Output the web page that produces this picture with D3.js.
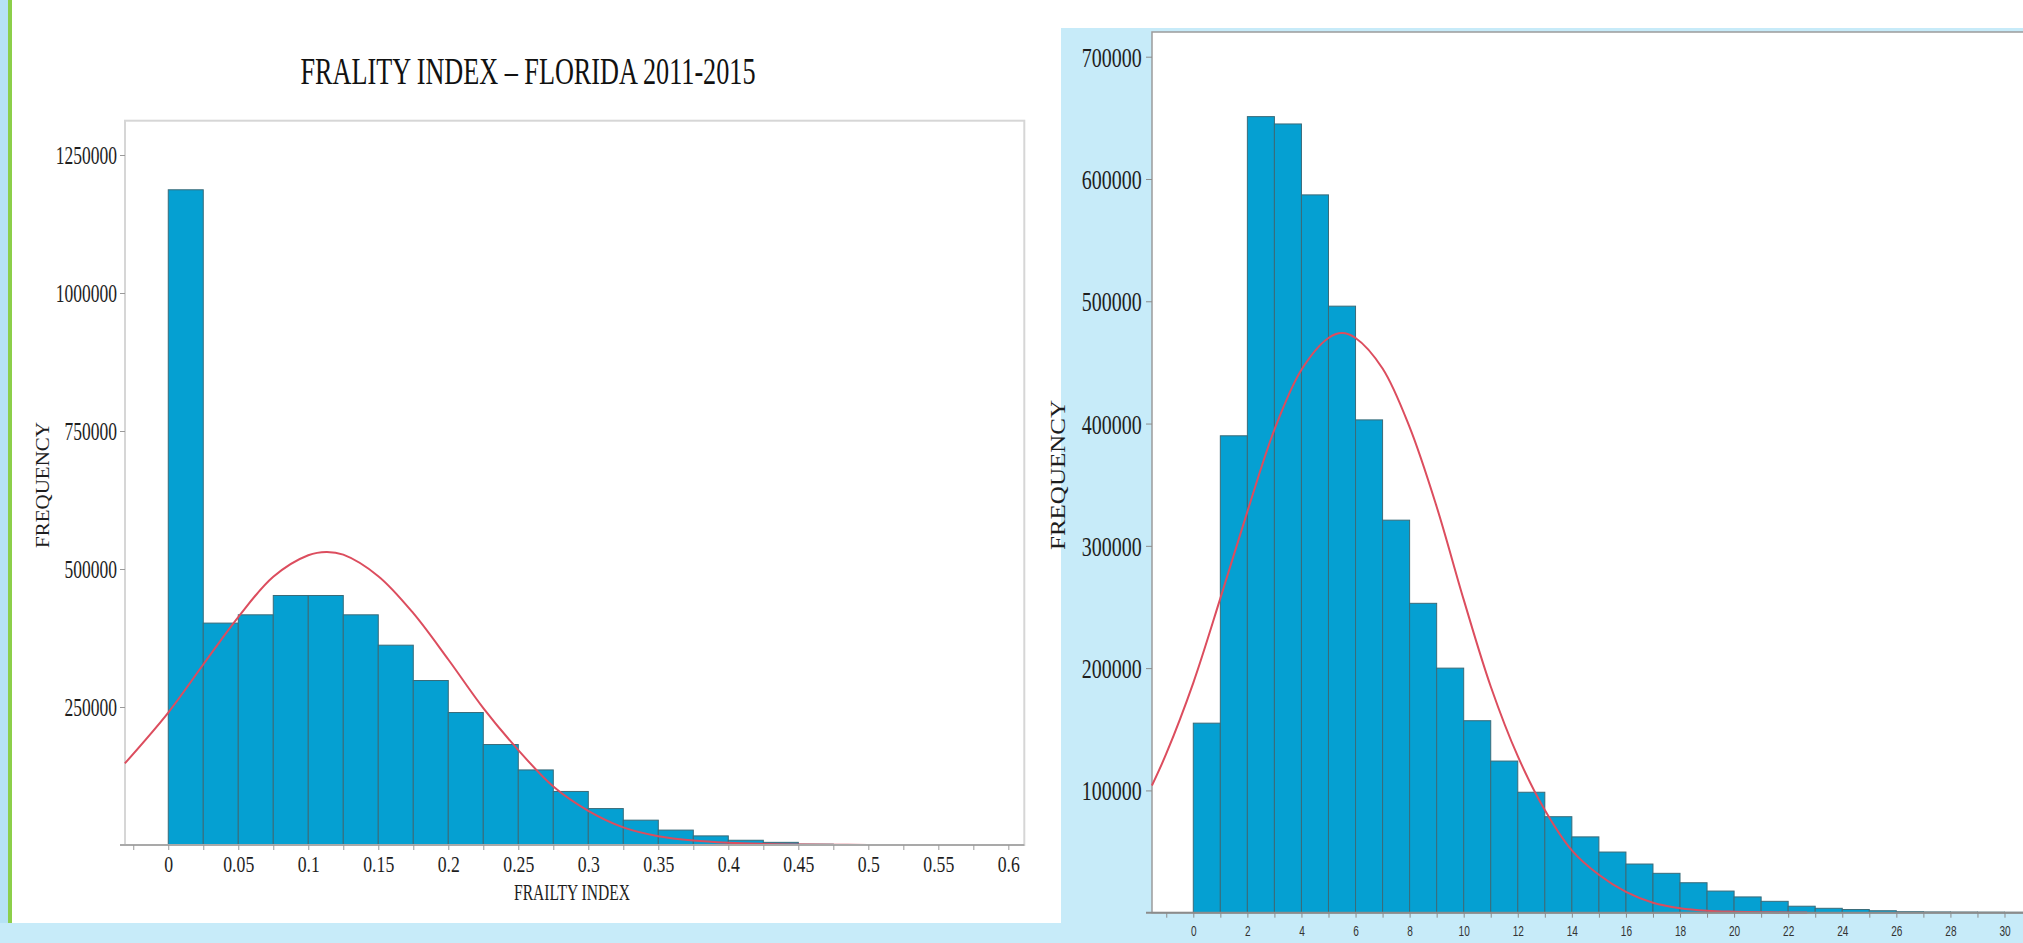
<!DOCTYPE html>
<html>
<head>
<meta charset="utf-8">
<script src="https://cdn.jsdelivr.net/npm/d3@7"></script>
<style>
  body { margin: 0; background: #c7ebf9; }
  svg { display: block; }
</style>
</head>
<body>
<svg id="chart" width="2023" height="943"></svg>
<script>
// ---------------- DATA ----------------
// Left panel: Frailty index histogram (bins of width 0.025 starting at 0)
const leftBinStart = 0;
const leftBinWidth = 0.025;
const leftCounts = [1187000, 402000, 417000, 452000, 452000, 417000, 362000, 298000,
  240000, 182000, 136000, 97000, 66000, 45000, 27000, 16500, 8600, 4800, 1500, 700,
  300, 300, 300, 300];
// Left fitted curve (x, frequency)
const leftCurveX = [-0.031, 0, 0.025, 0.05, 0.075, 0.1, 0.113, 0.125, 0.15, 0.175, 0.2,
  0.225, 0.25, 0.275, 0.3, 0.325, 0.35, 0.375, 0.4, 0.425, 0.45, 0.475, 0.5];
const leftCurveY = [148000, 240000, 327000, 413000, 486000, 525000, 531000, 526000, 487000,
  420000, 336000, 248000, 172000, 106000, 62000, 32000, 16000, 8000, 4000, 2000, 900, 400, 150];
const leftXTicks = [0, 0.05, 0.1, 0.15, 0.2, 0.25, 0.3, 0.35, 0.4, 0.45, 0.5, 0.55, 0.6];
const leftXTickLabels = ["0", "0.05", "0.1", "0.15", "0.2", "0.25", "0.3", "0.35", "0.4", "0.45", "0.5", "0.55", "0.6"];
const leftYTicks = [250000, 500000, 750000, 1000000, 1250000];

// Right panel: count histogram (bins of width 1 starting at 0)
const rightBinStart = 0;
const rightBinWidth = 1;
const rightCounts = [155000, 390000, 651000, 645000, 587000, 496000, 403000, 321000, 253000,
  200000, 157000, 124000, 98500, 78500, 62000, 49600, 39800, 32200, 24500, 17700, 12900,
  9300, 5300, 3600, 2600, 1600, 800, 600, 500, 400, 300];
const rightCurveX = [-1.53, -1, 0, 1, 2, 3, 4, 5, 5.5, 6, 7, 8, 9, 10, 11, 12, 13, 14, 15,
  16, 17, 18, 19, 20, 21, 22, 22.7];
const rightCurveY = [104000, 130000, 188000, 257000, 328000, 395000, 444000, 470000, 474000,
  470000, 445000, 397000, 332000, 256000, 185000, 128000, 84000, 51000, 31000, 17000, 8200,
  3700, 1600, 800, 400, 200, 100];
const rightXTicks = [0, 2, 4, 6, 8, 10, 12, 14, 16, 18, 20, 22, 24, 26, 28, 30];
const rightYTicks = [100000, 200000, 300000, 400000, 500000, 600000, 700000];

const titleText = "FRALITY INDEX \u2013 FLORIDA 2011-2015";

// ---------------- STYLE ----------------
const barFill = "#05a0d2";
const barStroke = "#3a6b79";
const curveColor = "#dc4d5e";
const serif = "'Liberation Serif', 'Times New Roman', serif";
const sans = "'Liberation Sans', Arial, sans-serif";

const svg = d3.select("#chart");

// Backgrounds
svg.append("rect").attr("x", 0).attr("y", 0).attr("width", 2023).attr("height", 943).attr("fill", "#c7ebf9");
svg.append("rect").attr("x", 0).attr("y", 0).attr("width", 8).attr("height", 923).attr("fill", "#b6e2f5");
svg.append("rect").attr("x", 8).attr("y", 0).attr("width", 4).attr("height", 923).attr("fill", "#8ccf4a");
svg.append("rect").attr("x", 12).attr("y", 0).attr("width", 1049).attr("height", 923).attr("fill", "#ffffff");
svg.append("rect").attr("x", 1061).attr("y", 0).attr("width", 962).attr("height", 28).attr("fill", "#ffffff");

// ================= LEFT PANEL =================
const L = { left: 125, right: 1024.3, top: 120.7, bottom: 845 };
const xL = d3.scaleLinear().domain([-0.0309, 0.6114]).range([L.left, L.right]);
const yL = d3.scaleLinear().domain([0, 1250000]).range([845, 155]);

svg.append("rect")
  .attr("x", L.left).attr("y", L.top)
  .attr("width", L.right - L.left).attr("height", L.bottom - L.top)
  .attr("fill", "#fff").attr("stroke", "#d6d6d6").attr("stroke-width", 2);

const gL = svg.append("g");
gL.selectAll("rect.bar")
  .data(leftCounts)
  .join("rect")
  .attr("class", "bar")
  .attr("x", (d, i) => xL(leftBinStart + i * leftBinWidth))
  .attr("width", (d, i) => xL(leftBinStart + (i + 1) * leftBinWidth) - xL(leftBinStart + i * leftBinWidth))
  .attr("y", d => yL(d))
  .attr("height", d => yL(0) - yL(d))
  .attr("fill", barFill)
  .attr("stroke", barStroke)
  .attr("stroke-width", 1);

gL.append("path")
  .datum(leftCurveX.map((x, i) => [x, leftCurveY[i]]))
  .attr("fill", "none")
  .attr("stroke", curveColor)
  .attr("stroke-width", 2)
  .attr("d", d3.line().x(d => xL(d[0])).y(d => yL(d[1])).curve(d3.curveCatmullRom));

// x axis line
svg.append("line").attr("x1", 120).attr("x2", L.right).attr("y1", L.bottom).attr("y2", L.bottom)
  .attr("stroke", "#a9a9a9").attr("stroke-width", 2);

// left x axis (minor + major ticks)
const leftMinor = d3.range(-1, 25).map(i => +(i * 0.025).toFixed(3));
const axLX = svg.append("g").attr("transform", `translate(0,${L.bottom})`)
  .call(d3.axisBottom(xL).tickValues(leftMinor).tickSize(5).tickSizeOuter(0)
    .tickFormat(d => {
      const k = leftXTicks.findIndex(t => Math.abs(t - d) < 1e-6);
      return k >= 0 ? leftXTickLabels[k] : "";
    }));
axLX.select(".domain").remove();
axLX.selectAll(".tick line").attr("stroke", "#9a9a9a");
axLX.selectAll(".tick text")
  .attr("y", null).attr("dy", null)
  .attr("transform", "translate(0,27) scale(0.74,1)")
  .attr("font-family", serif).attr("font-size", 24).attr("fill", "#1e1e1e")
  .attr("text-anchor", "middle");

// left y axis
const axLY = svg.append("g").attr("transform", `translate(${L.left},0)`)
  .call(d3.axisLeft(yL).tickValues(leftYTicks).tickSize(5).tickSizeOuter(0).tickFormat(d3.format("d")));
axLY.select(".domain").remove();
axLY.selectAll(".tick line").attr("stroke", "#9a9a9a");
axLY.selectAll(".tick text")
  .attr("x", null).attr("dy", "0.35em")
  .attr("transform", "translate(-8,0) scale(0.7,1)")
  .attr("font-family", serif).attr("font-size", 25).attr("fill", "#1e1e1e")
  .attr("text-anchor", "end");

// Title and axis titles
svg.append("text")
  .attr("x", 528).attr("y", 84)
  .attr("text-anchor", "middle")
  .attr("font-family", serif).attr("font-size", 38).attr("fill", "#111")
  .attr("textLength", 455).attr("lengthAdjust", "spacingAndGlyphs")
  .text(titleText);

svg.append("text")
  .attr("x", 572).attr("y", 900)
  .attr("text-anchor", "middle")
  .attr("font-family", serif).attr("font-size", 23).attr("fill", "#1e1e1e")
  .attr("textLength", 116).attr("lengthAdjust", "spacingAndGlyphs")
  .text("FRAILTY INDEX");

svg.append("text")
  .attr("transform", "translate(49,485) rotate(-90)")
  .attr("text-anchor", "middle")
  .attr("font-family", serif).attr("font-size", 19).attr("fill", "#1e1e1e")
  .attr("textLength", 126).attr("lengthAdjust", "spacingAndGlyphs")
  .text("FREQUENCY");

// ================= RIGHT PANEL =================
const R = { left: 1152, right: 2045, top: 32, bottom: 912.7 };
const xR = d3.scaleLinear().domain([-1.527, 31.5]).range([R.left, 1193.3 + 31.5 * 27.04]);
const yR = d3.scaleLinear().domain([0, 700000]).range([912.7, 56.7]);

svg.append("rect")
  .attr("x", R.left).attr("y", R.top)
  .attr("width", R.right - R.left).attr("height", R.bottom - R.top)
  .attr("fill", "#fff").attr("stroke", "#9c9c9c").attr("stroke-width", 1.5);

const gR = svg.append("g");
gR.selectAll("rect.bar")
  .data(rightCounts)
  .join("rect")
  .attr("class", "bar")
  .attr("x", (d, i) => xR(rightBinStart + i * rightBinWidth))
  .attr("width", (d, i) => xR(rightBinStart + (i + 1) * rightBinWidth) - xR(rightBinStart + i * rightBinWidth))
  .attr("y", d => yR(d))
  .attr("height", d => yR(0) - yR(d))
  .attr("fill", barFill)
  .attr("stroke", barStroke)
  .attr("stroke-width", 1);

gR.append("path")
  .datum(rightCurveX.map((x, i) => [x, rightCurveY[i]]))
  .attr("fill", "none")
  .attr("stroke", curveColor)
  .attr("stroke-width", 2)
  .attr("d", d3.line().x(d => xR(d[0])).y(d => yR(d[1])).curve(d3.curveCatmullRom));

svg.append("line").attr("x1", 1146).attr("x2", 2023).attr("y1", R.bottom).attr("y2", R.bottom)
  .attr("stroke", "#8c8c8c").attr("stroke-width", 2);

const rightMinor = d3.range(-1, 32);
const axRX = svg.append("g").attr("transform", `translate(0,${R.bottom})`)
  .call(d3.axisBottom(xR).tickValues(rightMinor).tickSize(5).tickSizeOuter(0)
    .tickFormat(d => rightXTicks.includes(d) ? String(d) : ""));
axRX.select(".domain").remove();
axRX.selectAll(".tick line").attr("stroke", "#8c8c8c");
axRX.selectAll(".tick text")
  .attr("y", null).attr("dy", null)
  .attr("transform", "translate(0,23.5) scale(0.72,1)")
  .attr("font-family", sans).attr("font-size", 14).attr("fill", "#333")
  .attr("text-anchor", "middle");

const axRY = svg.append("g").attr("transform", `translate(${R.left},0)`)
  .call(d3.axisLeft(yR).tickValues(rightYTicks).tickSize(6).tickSizeOuter(0).tickFormat(d3.format("d")));
axRY.select(".domain").remove();
axRY.selectAll(".tick line").attr("stroke", "#8c8c8c");
axRY.selectAll(".tick text")
  .attr("x", null).attr("dy", "0.35em")
  .attr("transform", "translate(-10.3,0) scale(0.74,1)")
  .attr("font-family", serif).attr("font-size", 27).attr("fill", "#1e1e1e")
  .attr("text-anchor", "end");

svg.append("text")
  .attr("transform", "translate(1065,475) rotate(-90)")
  .attr("text-anchor", "middle")
  .attr("font-family", serif).attr("font-size", 22).attr("fill", "#1e1e1e")
  .attr("textLength", 150).attr("lengthAdjust", "spacingAndGlyphs")
  .text("FREQUENCY");
</script>
</body>
</html>
